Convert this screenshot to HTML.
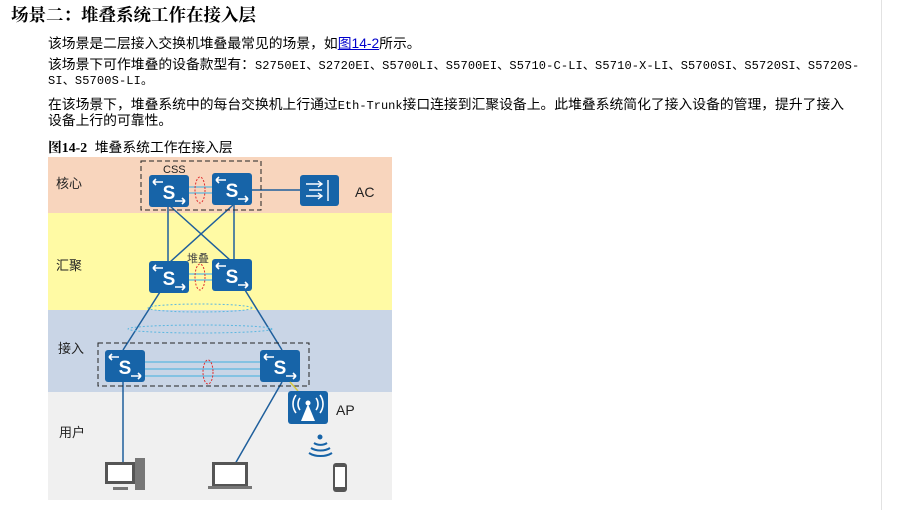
<!DOCTYPE html>
<html><head><meta charset="utf-8"><style>
body{margin:0;width:910px;height:510px;background:#fff;position:relative;overflow:hidden;font-family:"Liberation Sans","Noto Sans CJK SC",sans-serif;color:#000}
.t{position:absolute;white-space:nowrap;font-size:13.8px;line-height:16px}
.m{font-family:"Liberation Mono","Noto Sans CJK SC",monospace;font-size:12px;letter-spacing:0.15px}
a{color:#0000cc}
</style></head><body>
<div style="position:absolute;left:881px;top:0;width:1px;height:510px;background:#e2e2e2"></div>
<div class="t" style="left:11px;top:5px;font-size:17.5px;line-height:20px;font-weight:bold;font-family:'Noto Serif CJK SC',serif">场景二：堆叠系统工作在接入层</div>
<div class="t" style="left:48px;top:36px">该场景是二层接入交换机堆叠最常见的场景，如<a href="#" style="text-decoration:underline">图14-2</a>所示。</div>
<div class="t" style="left:48px;top:57px">该场景下可作堆叠的设备款型有：<span class="m">S2750EI、S2720EI、S5700LI、S5700EI、S5710-C-LI、S5710-X-LI、S5700SI、S5720SI、S5720S-</span></div>
<div class="t m" style="left:48px;top:73px">SI、S5700S-LI。</div>
<div class="t" style="left:48px;top:97px">在该场景下，堆叠系统中的每台交换机上行通过<span class="m" style="letter-spacing:0">Eth-Trunk</span>接口连接到汇聚设备上。此堆叠系统简化了接入设备的管理，提升了接入</div>
<div class="t" style="left:48px;top:113px">设备上行的可靠性。</div>
<div class="t" style="left:48px;top:140px"><b style="font-family:'Liberation Serif','Noto Serif CJK SC',serif">图14-2</b>&nbsp; 堆叠系统工作在接入层</div>
<svg width="910" height="510" style="position:absolute;left:0;top:0" font-family="Liberation Sans,Noto Sans CJK SC,sans-serif">
<defs>
<g id="sw"><rect x="0" y="0" width="40" height="32" rx="3" fill="#1764a8"/>
<text x="20" y="24" font-size="19" font-weight="bold" fill="#fff" text-anchor="middle">S</text>
<path d="M4 7h10M4 7l3-3M4 7l3 3M36 26h-10M36 26l-3-3M36 26l-3 3" stroke="#fff" stroke-width="1.6" fill="none"/></g>
</defs>
<rect x="48" y="157" width="344" height="56" fill="#f8d5bd"/>
<rect x="48" y="213" width="344" height="97" fill="#fffaa4"/>
<rect x="48" y="310" width="344" height="82" fill="#c9d5e6"/>
<rect x="48" y="392" width="344" height="108" fill="#f0f0f0"/>
<g font-size="13" fill="#222"><text x="56" y="188">核心</text><text x="56" y="270">汇聚</text><text x="58" y="353">接入</text><text x="59" y="437">用户</text>
<text x="355" y="197" font-size="14">AC</text><text x="336" y="415" font-size="14">AP</text>
<text x="163" y="173" font-size="11">CSS</text><text x="187" y="262" font-size="11" fill="#444">堆叠</text></g>
<g stroke="#1f5f9c" stroke-width="1.5" fill="none">
<line x1="168" y1="206" x2="168" y2="262"/><line x1="170" y1="206" x2="230" y2="260"/>
<line x1="233" y1="205" x2="170" y2="262"/><line x1="234" y1="205" x2="234" y2="260"/>
<line x1="160" y1="292" x2="123" y2="350"/><line x1="245" y1="290" x2="282" y2="350"/>
<line x1="123" y1="382" x2="123" y2="465"/><line x1="282" y1="382" x2="235" y2="464"/>
<line x1="251" y1="190" x2="300" y2="190"/>
</g>
<g stroke="#5bb7e0" stroke-width="1.2">
<line x1="188" y1="187" x2="212" y2="187"/><line x1="188" y1="193" x2="212" y2="193"/>
<line x1="188" y1="274" x2="212" y2="274"/><line x1="188" y1="280" x2="212" y2="280"/>
<line x1="145" y1="362" x2="260" y2="362"/><line x1="145" y1="369" x2="260" y2="369"/><line x1="145" y1="376" x2="260" y2="376"/>
</g>
<g fill="none" stroke="#5bb7e0" stroke-width="1" stroke-dasharray="2,2">
<ellipse cx="200" cy="308" rx="52" ry="4"/><ellipse cx="200" cy="329" rx="72" ry="4"/></g>
<g fill="none" stroke="#e03030" stroke-width="1" stroke-dasharray="2,1.5">
<ellipse cx="200" cy="190" rx="5" ry="13"/><ellipse cx="200" cy="277" rx="5" ry="13"/><ellipse cx="208" cy="372" rx="5" ry="12"/></g>
<g fill="none" stroke="#222" stroke-width="1" stroke-dasharray="5,3">
<rect x="141" y="161" width="120" height="49"/><rect x="98" y="343" width="211" height="43"/></g>
<use href="#sw" x="149" y="175"/><use href="#sw" x="212" y="173"/>
<use href="#sw" x="149" y="261"/><use href="#sw" x="212" y="259"/>
<use href="#sw" x="105" y="350"/><use href="#sw" x="260" y="350"/>
<rect x="300" y="175" width="39" height="31" rx="3" fill="#1764a8"/>
<path d="M328 180v21M306 184h16M309 190h13M306 196h16M318 181l4 3-4 3M318 193l4 3-4 3" stroke="#fff" stroke-width="1.4" fill="none"/>
<line x1="290" y1="382" x2="298" y2="391" stroke="#d6c840" stroke-width="1.5"/>
<rect x="288" y="391" width="40" height="33" rx="3" fill="#1764a8"/>
<path d="M308 404l-7 17h14z" fill="#fff"/><circle cx="308" cy="403" r="2.5" fill="#fff"/>
<path d="M300 398a10 10 0 0 0 0 12M296 395a15 15 0 0 0 0 18M316 398a10 10 0 0 1 0 12M320 395a15 15 0 0 1 0 18" stroke="#fff" stroke-width="1.6" fill="none"/>
<circle cx="320" cy="437" r="2.5" fill="#1764a8"/>
<path d="M314 443a9 6 0 0 0 13 0M311 448a13 8 0 0 0 19 0M309 453a16 10 0 0 0 23 0" stroke="#1764a8" stroke-width="2" fill="none"/>
<rect x="333" y="463" width="14" height="29" rx="3" fill="#555"/><rect x="335" y="467" width="10" height="20" fill="#fff"/>
<rect x="105" y="462" width="30" height="22" fill="#555"/><rect x="108" y="465" width="24" height="16" fill="#fff"/>
<rect x="113" y="487" width="15" height="3" fill="#777"/><rect x="135" y="458" width="10" height="32" fill="#777"/>
<rect x="212" y="462" width="36" height="24" fill="#555"/><rect x="215" y="465" width="30" height="19" fill="#fff"/>
<rect x="208" y="486" width="44" height="3" fill="#777"/>
</svg>
</body></html>
